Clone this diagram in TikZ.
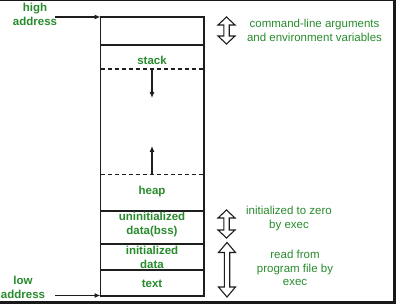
\documentclass[tikz,border=0pt]{standalone}
\usepackage{fontspec}
\setmainfont{Liberation Sans}
\usetikzlibrary{arrows.meta}
\definecolor{gfg}{RGB}{40,140,45}
\definecolor{lin}{RGB}{30,30,30}
\newcommand\hollowarrow[4]{% x, top, bottom, head length
  \draw[harrow] (#1,#2) -- (#1+8.5,#2+#4) -- (#1+2.7,#2+#4) -- (#1+2.7,#3-#4) -- (#1+8.5,#3-#4) -- (#1,#3)
    -- (#1-8.5,#3-#4) -- (#1-2.7,#3-#4) -- (#1-2.7,#2+#4) -- (#1-8.5,#2+#4) -- cycle;}
\begin{document}
\begin{tikzpicture}[x=1pt,y=-1pt,
  boxline/.style={draw=lin,line width=1.2pt},
  dashline/.style={draw=lin,line width=1.1pt,dash pattern=on 4pt off 3pt},
  arr/.style={draw=lin,line width=1.1pt,-{Latex[length=6pt,width=5pt]}},
  harrow/.style={draw=lin,line width=1.1pt,fill=white,line join=miter},
  seg/.style={font=\bfseries\fontsize{11.5}{14}\selectfont,text=gfg,align=center,inner sep=0pt},
  note/.style={font=\fontsize{11.5}{13.5}\selectfont,text=gfg,align=center,inner sep=0pt}]
\useasboundingbox (0,0) rectangle (396,304);
\fill[white] (0,0) rectangle (396,304);
\fill[black!90] (0,0) rectangle (396,1.5);
\fill[black!90] (393,0) rectangle (396,304);
\fill[black!90] (0,301) rectangle (396,304);
% memory box
\draw[boxline] (100.5,17) rectangle (204,296);
\draw[boxline] (100.5,45) -- (204,45);
\draw[boxline] (100.5,211) -- (204,211);
\draw[boxline] (100.5,244) -- (204,244);
\draw[boxline] (100.5,270) -- (204,270);
\draw[dashline] (100.5,69) -- (204,69);
\draw[dashline] (100.5,174.5) -- (204,174.5);
\coordinate (sd) at (152,69);
\coordinate (se) at (152,98);
\coordinate (hd) at (152,174.5);
\coordinate (he) at (152,146);
\draw[arr] (sd) -- (se);
\draw[arr] (hd) -- (he);
\node[seg] (stack) at (152,60) {stack};
\node[seg] (heap) at (152,192) {heap};
\node[seg] (bss) at (152,225) {uninitialized\\data(bss)};
\node[seg] (data) at (152,257) {initialized\\data};
\node[seg] (text) at (152,284) {text};
% left labels
\node[seg] (high) at (35,14) {high\\address};
\node[seg] (low) at (23,287) {low\\address};
\coordinate (hs) at (55,17);
\coordinate (ht) at (100.5,17);
\coordinate (ls) at (55,295.5);
\coordinate (lt) at (100.5,295.5);
\draw[arr] (hs) -- (ht);
\draw[arr] (ls) -- (lt);
% right side
\hollowarrow{226.5}{17}{44}{8}
\hollowarrow{226.5}{210}{238}{8}
\hollowarrow{227}{242.5}{297}{10}
\node[note] (cmd) at (314.5,30.5) {command-line arguments\\and environment variables};
\node[note] (zero) at (289,218.5) {initialized to zero\\by exec};
\node[note] (read) at (295,268) {read from\\program file by\\exec};
\end{tikzpicture}
\end{document}
